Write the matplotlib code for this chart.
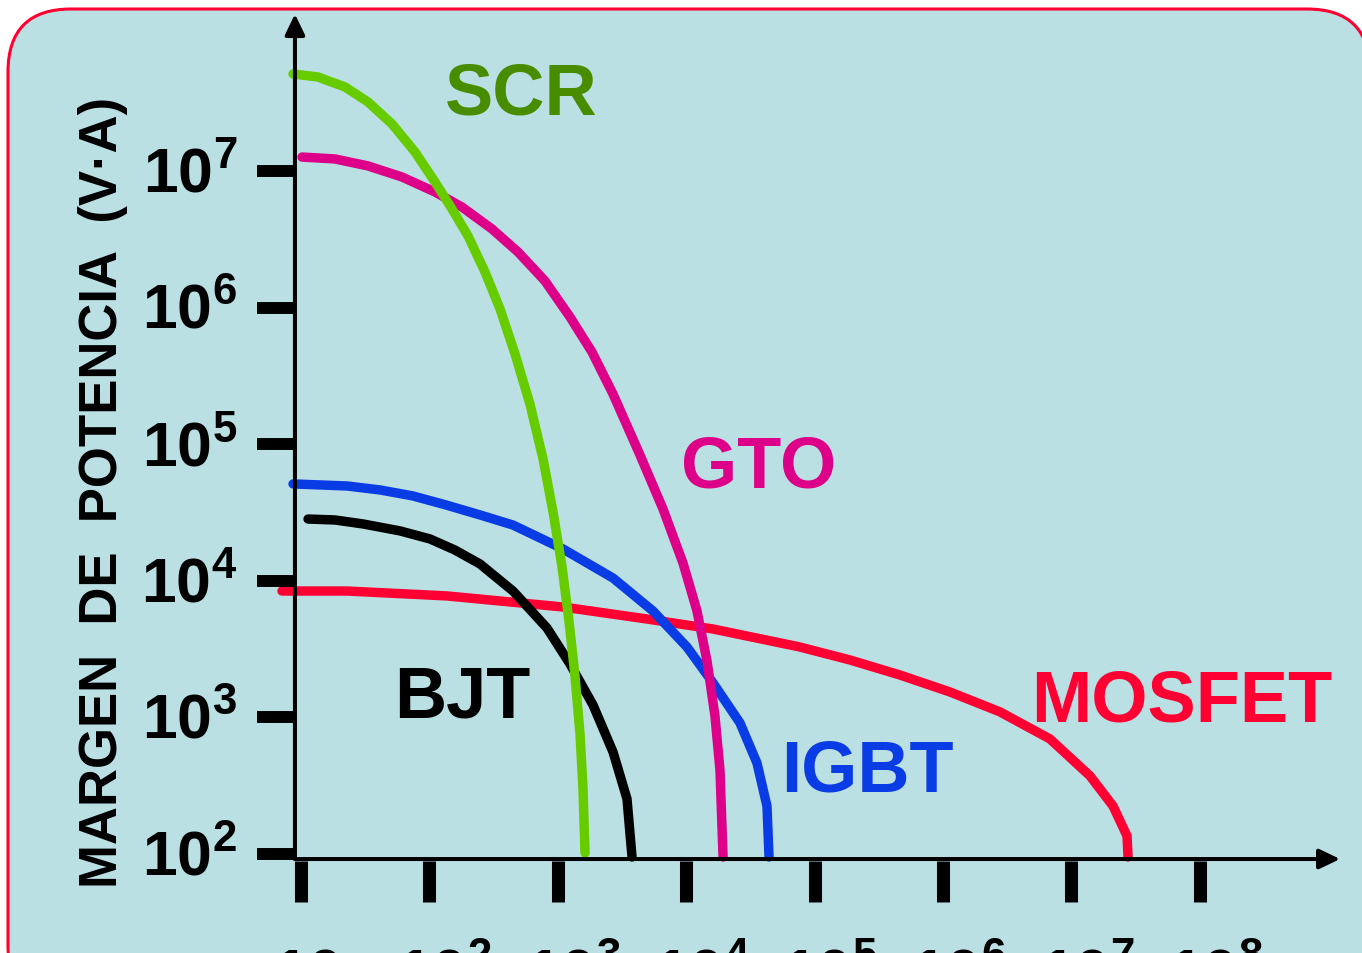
import matplotlib
matplotlib.use('Agg')
import matplotlib.pyplot as plt
from matplotlib.patches import FancyBboxPatch
import numpy as np

plt.rcParams['font.family'] = ['Liberation Sans', 'DejaVu Sans']
plt.rcParams['mathtext.default'] = 'regular'

# curves, as log10(frequency) / log10(power) pairs
scr_f = [0.938, 1.132, 1.343, 1.522, 1.709, 1.888, 2.044, 2.176, 2.301, 2.433, 2.550,
         2.667, 2.783, 2.885, 2.963, 3.033, 3.087, 3.134, 3.173, 3.196, 3.212]
scr_p = [7.710, 7.688, 7.615, 7.505, 7.344, 7.139, 6.919, 6.722, 6.524, 6.261, 5.990,
         5.660, 5.294, 4.892, 4.504, 4.101, 3.706, 3.303, 2.878, 2.483, 2.007]

gto_f = [1.008, 1.265, 1.522, 1.787, 2.044, 2.254, 2.488, 2.690, 2.900, 3.095, 3.266,
         3.430, 3.640, 3.819, 3.975, 4.084, 4.162, 4.224, 4.263, 4.287]
gto_p = [7.102, 7.088, 7.037, 6.956, 6.846, 6.736, 6.575, 6.407, 6.195, 5.931, 5.675,
         5.367, 4.921, 4.526, 4.130, 3.779, 3.413, 3.010, 2.615, 1.978]

igbt_f = [0.938, 1.358, 1.615, 1.872, 2.129, 2.394, 2.651, 3.040, 3.430, 3.741, 4.006,
          4.209, 4.419, 4.551, 4.629, 4.645]
igbt_p = [4.709, 4.694, 4.665, 4.621, 4.555, 4.482, 4.408, 4.233, 4.020, 3.779, 3.515,
          3.252, 2.959, 2.666, 2.351, 1.978]

bjt_f = [1.055, 1.265, 1.483, 1.771, 2.005, 2.199, 2.394, 2.651, 2.916, 3.095, 3.274,
         3.430, 3.539, 3.578]
bjt_p = [4.452, 4.445, 4.416, 4.365, 4.306, 4.225, 4.123, 3.925, 3.654, 3.391, 3.091,
         2.747, 2.403, 1.978]

mos_f = [0.852, 1.358, 2.137, 3.040, 3.695, 4.209, 4.886, 5.276, 5.665, 6.054, 6.444,
         6.833, 7.145, 7.324, 7.433, 7.441]
mos_p = [3.925, 3.925, 3.889, 3.808, 3.720, 3.647, 3.515, 3.420, 3.310, 3.186, 3.040,
         2.842, 2.571, 2.351, 2.132, 1.978]

x_ticks = [1, 2, 3, 4, 5, 6, 7, 8]
x_labels = ['$10$', '$10^{2}$', '$10^{3}$', '$10^{4}$', '$10^{5}$', '$10^{6}$', '$10^{7}$', '$10^{8}$']
y_ticks = [2, 3, 4, 5, 6, 7]
y_labels = ['$10^{2}$', '$10^{3}$', '$10^{4}$', '$10^{5}$', '$10^{6}$', '$10^{7}$']

fig = plt.figure(figsize=(13.62, 9.54), dpi=100)

# rounded panel behind everything, in pixel units
bg = fig.add_axes([0, 0, 1, 1])
bg.set_xlim(0, 1362)
bg.set_ylim(954, 0)
bg.axis('off')
bg.add_patch(FancyBboxPatch((8, 10), 1362, 1000, boxstyle='round,pad=0,rounding_size=63',
                            fc='#bbe0e3', ec='#ff0033', lw=2.2))

ax = fig.add_axes([0, 0, 1, 1])
ax.patch.set_visible(False)
ax.set_xscale('log')
ax.set_yscale('log')
ax.set_xlim(10 ** -1.344, 10 ** 9.263)
ax.set_ylim(10 ** 1.275, 10 ** 8.259)
ax.axis('off')

def p(v):
    return 10 ** np.asarray(v, dtype=float)

curves = [
    (mos_f, mos_p, '#ff0033'),
    (igbt_f, igbt_p, '#0a3ce6'),
    (bjt_f, bjt_p, '#000000'),
    (gto_f, gto_p, '#dd0088'),
    (scr_f, scr_p, '#66cc00'),
]
for f, pw, c in curves:
    ax.plot(p(f), p(pw), color=c, lw=6.8, solid_capstyle='round', solid_joinstyle='round', zorder=3)

# axes with arrows
x0, y0 = 0.953, 1.963
arrow = dict(arrowstyle='-|>,head_length=1.25,head_width=0.6', color='black', lw=2.9,
             shrinkA=0, shrinkB=0, mutation_scale=10)
ax.annotate('', xy=(p(9.092), p(y0)), xytext=(p(x0), p(y0)), arrowprops=arrow, zorder=4)
ax.annotate('', xy=(p(x0), p(8.149)), xytext=(p(x0), p(y0)), arrowprops=arrow, zorder=4)

# tick bars and labels
for t, lab in zip(y_ticks, y_labels):
    ax.plot(p([0.657, x0]), p([t, t]), color='black', lw=8.6, solid_capstyle='butt', zorder=4)
    ax.text(p(0.502), p(t - 0.146), lab, ha='right', va='baseline', fontsize=45,
            fontweight='bold')
for t, lab in zip(x_ticks, x_labels):
    ax.plot(p([t, t]), p([1.949, 1.649]), color='black', lw=9.4, solid_capstyle='butt', zorder=4)
    dx = 0.05 if t == 1 else 0.12
    ax.text(p(t + dx), p(0.99), lab, ha='center', va='baseline', fontsize=45,
            fontweight='bold', clip_on=False)

ax.text(p(-0.542), p(4.657), 'MARGEN  DE  POTENCIA  (V·A)', rotation=90, ha='center',
        va='center', fontsize=38, fontweight='bold')

# device names
names = [
    ('SCR', 2.713, 7.42, '#488c00'),
    ('GTO', 4.567, 4.687, '#dd0088'),
    ('BJT', 2.254, 3.003, '#000000'),
    ('IGBT', 5.408, 2.461, '#0a3ce6'),
    ('MOSFET', 7.861, 2.974, '#ff0033'),
]
for txt, fx, py, c in names:
    ax.text(p(fx), p(py), txt, color=c, ha='center', va='baseline', fontsize=52,
            fontweight='bold', zorder=5)

fig.savefig('out.png', dpi=100)
